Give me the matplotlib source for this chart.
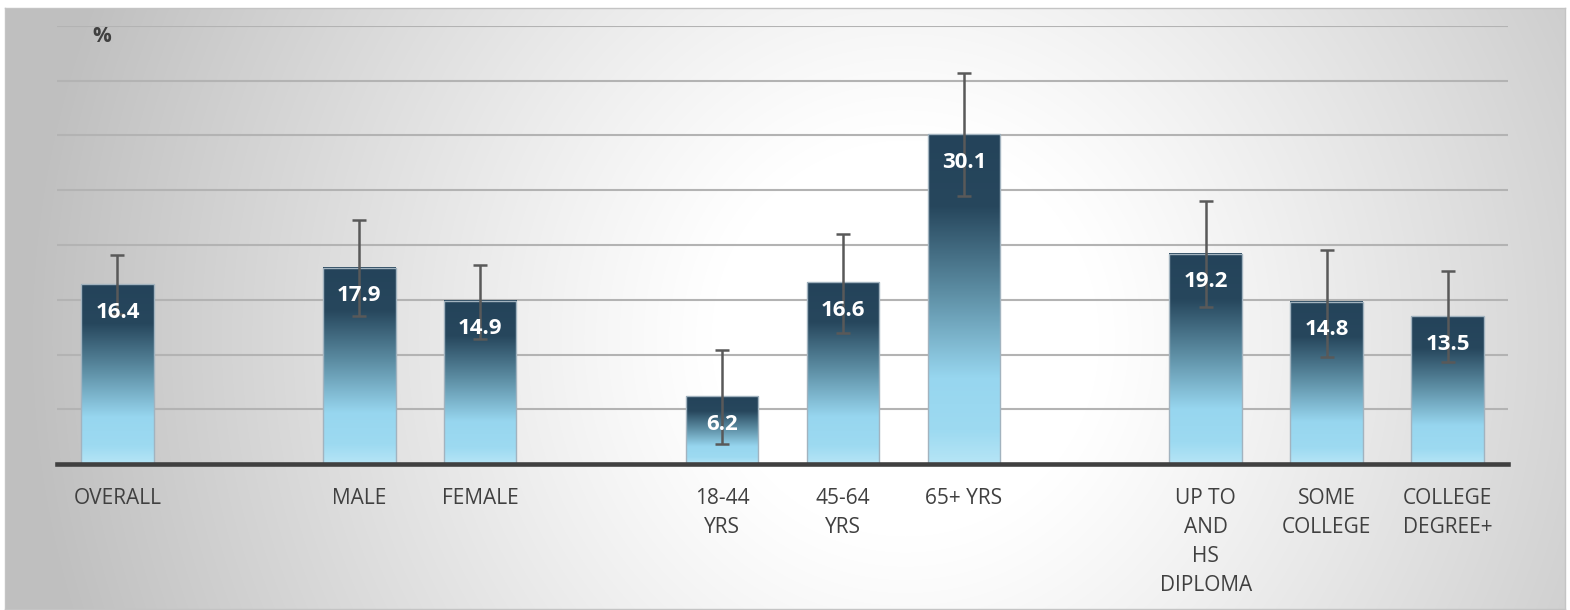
import numpy as np
import matplotlib
matplotlib.use("Agg")
from matplotlib import pyplot as plt
from matplotlib import font_manager
from matplotlib.colors import LinearSegmentedColormap

labels = ["OVERALL", "", "MALE", "FEMALE", "", "18-44\nYRS", "45-64\nYRS", "65+ YRS", "",
          "UP TO\nAND\nHS\nDIPLOMA", "SOME\nCOLLEGE", "COLLEGE\nDEGREE+"]
values = np.array([16.4, np.nan, 17.9, 14.9, np.nan, 6.2, 16.6, 30.1, np.nan, 19.2, 14.8, 13.5])
ci_low = np.array([13.7, np.nan, 13.5, 11.4, np.nan, 1.8, 12.0, 24.5, np.nan, 14.3, 9.8, 9.3])
ci_high = np.array([19.1, np.nan, 22.3, 18.2, np.nan, 10.4, 21.0, 35.7, np.nan, 24.0, 19.5, 17.6])
grid_ticks = [0, 5, 10, 15, 20, 25, 30, 35, 40]

installed = {f.name for f in font_manager.fontManager.ttflist}
font = "Open Sans" if "Open Sans" in installed else "DejaVu Sans"
plt.rcParams["font.family"] = [font, "DejaVu Sans"]

W, H = 1570, 610
fig = plt.figure(figsize=(W / 100, H / 100), dpi=100)
fig.patch.set_facecolor("white")

# radial grey->white panel behind the chart
bg = fig.add_axes([5 / W, 1 - 609 / H, 1560 / W, 601 / H], zorder=-5)
yy, xx = np.mgrid[0:601, 0:1560]
d = np.sqrt(((xx - 900) / 880.0) ** 2 + ((yy - 330) / 900.0) ** 2)
shade = 1 - 0.25 * np.clip((d - 0.22) / 0.78, 0, 1) ** 1.1
bg.imshow(np.dstack([shade] * 3), aspect="auto", interpolation="bilinear")
bg.set_xticks([])
bg.set_yticks([])
for s in bg.spines.values():
    s.set_color("#c4c4c4")
    s.set_linewidth(1)

ax = fig.add_axes([57 / W, 1 - 464 / H, 1451 / W, 438 / H])
ax.set_facecolor("none")
x = np.arange(len(labels))
ok = ~np.isnan(values)

ax.set_xlim(-0.5, len(labels) - 0.5)
ax.set_ylim(0, 40)
ax.set_yticks(grid_ticks)
ax.set_yticklabels([])
ax.grid(axis="y", color="#b3b3b3", linewidth=1.5, zorder=0)
ax.set_axisbelow(True)
for s in ax.spines.values():
    s.set_visible(False)
ax.set_xticks(x)
ax.set_xticklabels(labels, fontsize=15, color="#404040", linespacing=1.5)
ax.tick_params(axis="both", length=0, pad=17)

bar_cmap = LinearSegmentedColormap.from_list("bar", [
    (0.0, "#24435a"), (0.22, "#27475d"), (0.48, "#5d8ea4"),
    (0.74, "#97d6ef"), (0.9, "#9ddaf1"), (1.0, "#b6e5f6")])
grad = np.linspace(0, 1, 256).reshape(-1, 1)

bars = ax.bar(x[ok], values[ok], width=0.6, facecolor="none",
              edgecolor="#a2b3bf", linewidth=1, zorder=3)
for rect in bars:
    bx, bw, bh = rect.get_x(), rect.get_width(), rect.get_height()
    ax.imshow(grad, cmap=bar_cmap, extent=[bx, bx + bw, 0, bh], aspect="auto",
              origin="upper", zorder=2)

ax.errorbar(x[ok], values[ok],
            yerr=[values[ok] - ci_low[ok], ci_high[ok] - values[ok]],
            fmt="none", ecolor="#595959", elinewidth=1.8, capsize=5, capthick=1.8, zorder=4)

for xi, v in zip(x[ok], values[ok]):
    ax.annotate(f"{v:.1f}", (xi, v), xytext=(0, -28), textcoords="offset pixels",
                ha="center", va="center", fontsize=16, fontweight="bold",
                color="white", zorder=5)

ax.axhline(0, color="#404040", linewidth=3.3, zorder=6, clip_on=False)
ax.text(0.031, 0.975, "%", transform=ax.transAxes, ha="center", va="center",
        fontsize=15, fontweight="bold", color="#404040")

fig.savefig("out.png", dpi=100)
